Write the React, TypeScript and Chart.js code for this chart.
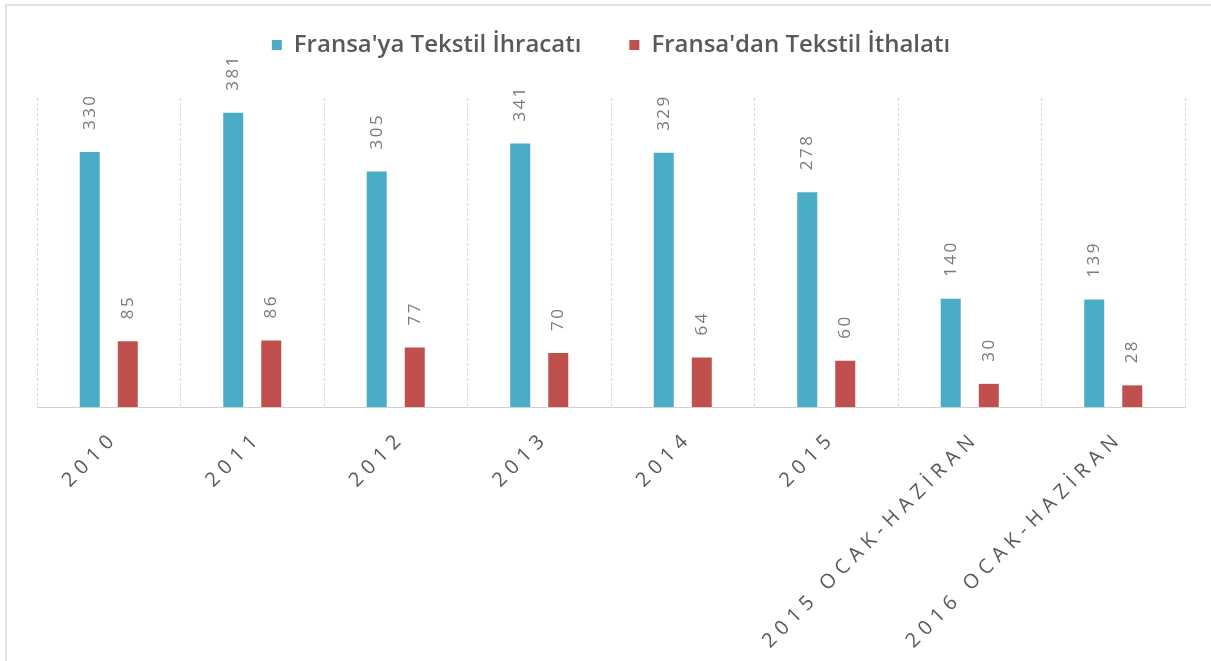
import React, { useEffect, useRef } from "react";
import { Chart, registerables } from "chart.js";

Chart.register(...registerables);

const categories: string[] = [
  "2010",
  "2011",
  "2012",
  "2013",
  "2014",
  "2015",
  "2015 OCAK-HAZİRAN",
  "2016 OCAK-HAZİRAN",
];
const exportValues: number[] = [330, 381, 305, 341, 329, 278, 140, 139];
const importValues: number[] = [85, 86, 77, 70, 64, 60, 30, 28];
const seriesNames: string[] = ["Fransa'ya Tekstil İhracatı", "Fransa'dan Tekstil İthalatı"];
const yMax = 400;

const BLUE = "#4BACC6";
const RED = "#C0504D";

const dataLabelPlugin = {
  id: "rotLabels",
  afterDatasetsDraw(chart: any) {
    const ctx = chart.ctx as CanvasRenderingContext2D;
    ctx.save();
    ctx.font = '17px "Open Sans"';
    ctx.fillStyle = "#7a7a7a";
    (ctx as any).letterSpacing = "2.5px";
    ctx.textAlign = "left";
    ctx.textBaseline = "alphabetic";
    chart.data.datasets.forEach((ds: any, di: number) => {
      const meta = chart.getDatasetMeta(di);
      meta.data.forEach((el: any, i: number) => {
        ctx.save();
        ctx.translate(el.x + 5, el.y - 22);
        ctx.rotate(-Math.PI / 2);
        ctx.fillText(String(ds.data[i]), 0, 0);
        ctx.restore();
      });
    });
    ctx.restore();
  },
};

const xLabelPlugin = {
  id: "xLabels",
  afterDraw(chart: any) {
    const ctx = chart.ctx as CanvasRenderingContext2D;
    const xs = chart.scales.x;
    const sp = 6;
    ctx.save();
    ctx.font = '20px "Open Sans"';
    ctx.fillStyle = "#595959";
    (ctx as any).letterSpacing = sp + "px";
    ctx.textAlign = "right";
    ctx.textBaseline = "middle";
    categories.forEach((lab, i) => {
      const x = xs.getPixelForValue(i);
      ctx.save();
      ctx.translate(x + 2, xs.top + 32);
      ctx.rotate(-Math.PI / 4);
      ctx.fillText(lab, sp, 0);
      ctx.restore();
    });
    ctx.restore();
  },
};

export default function App() {
  const ref = useRef<HTMLCanvasElement>(null);
  useEffect(() => {
    if (!ref.current) return;
    const chart = new Chart(ref.current, {
      type: "bar",
      data: {
        labels: categories,
        datasets: [
          {
            label: seriesNames[0],
            data: exportValues,
            backgroundColor: BLUE,
            categoryPercentage: 0.53,
            barPercentage: 0.526,
          },
          {
            label: seriesNames[1],
            data: importValues,
            backgroundColor: RED,
            categoryPercentage: 0.53,
            barPercentage: 0.526,
          },
        ],
      },
      options: {
        responsive: false,
        animation: false,
        devicePixelRatio: 1,
        layout: { padding: { top: -15, left: 37, right: 26, bottom: 0 } },
        plugins: {
          legend: {
            display: true,
            position: "top",
            labels: {
              boxWidth: 10,
              boxHeight: 10,
              padding: 48,
              color: "#595959",
              font: { family: '"Open Sans"', size: 24, weight: "600" },
            },
          },
          subtitle: {
            display: true,
            text: "",
            weight: 500,
            padding: { top: 0, bottom: 19 },
            font: { size: 10, lineHeight: 1.2 },
          } as any,
          tooltip: { enabled: false },
        },
        scales: {
          x: {
            grid: {
              display: true,
              offset: true,
              color: "#d9d9d9",
              lineWidth: 1,
              drawTicks: false,
            },
            border: { display: true, color: "#cfcfcf", dash: [3, 2] },
            ticks: { display: false },
            afterFit: (scale: any) => {
              scale.height = 254;
            },
          },
          y: {
            display: false,
            min: 0,
            max: yMax,
          },
        },
      },
      plugins: [dataLabelPlugin, xLabelPlugin],
    });
    return () => chart.destroy();
  }, []);
  return (
    <div style={{ position: "fixed", left: 0, top: 0, width: 1211, height: 661, background: "#fff" }}>
      <div
        style={{
          position: "absolute",
          left: 5,
          top: 4,
          width: 1211,
          height: 661,
          borderLeft: "2px solid #e2e2e2",
          borderTop: "2px solid #e2e2e2",
          boxSizing: "border-box",
        }}
      />
      <canvas ref={ref} width={1211} height={661} style={{ position: "absolute", left: 0, top: 0 }} />
    </div>
  );
}
